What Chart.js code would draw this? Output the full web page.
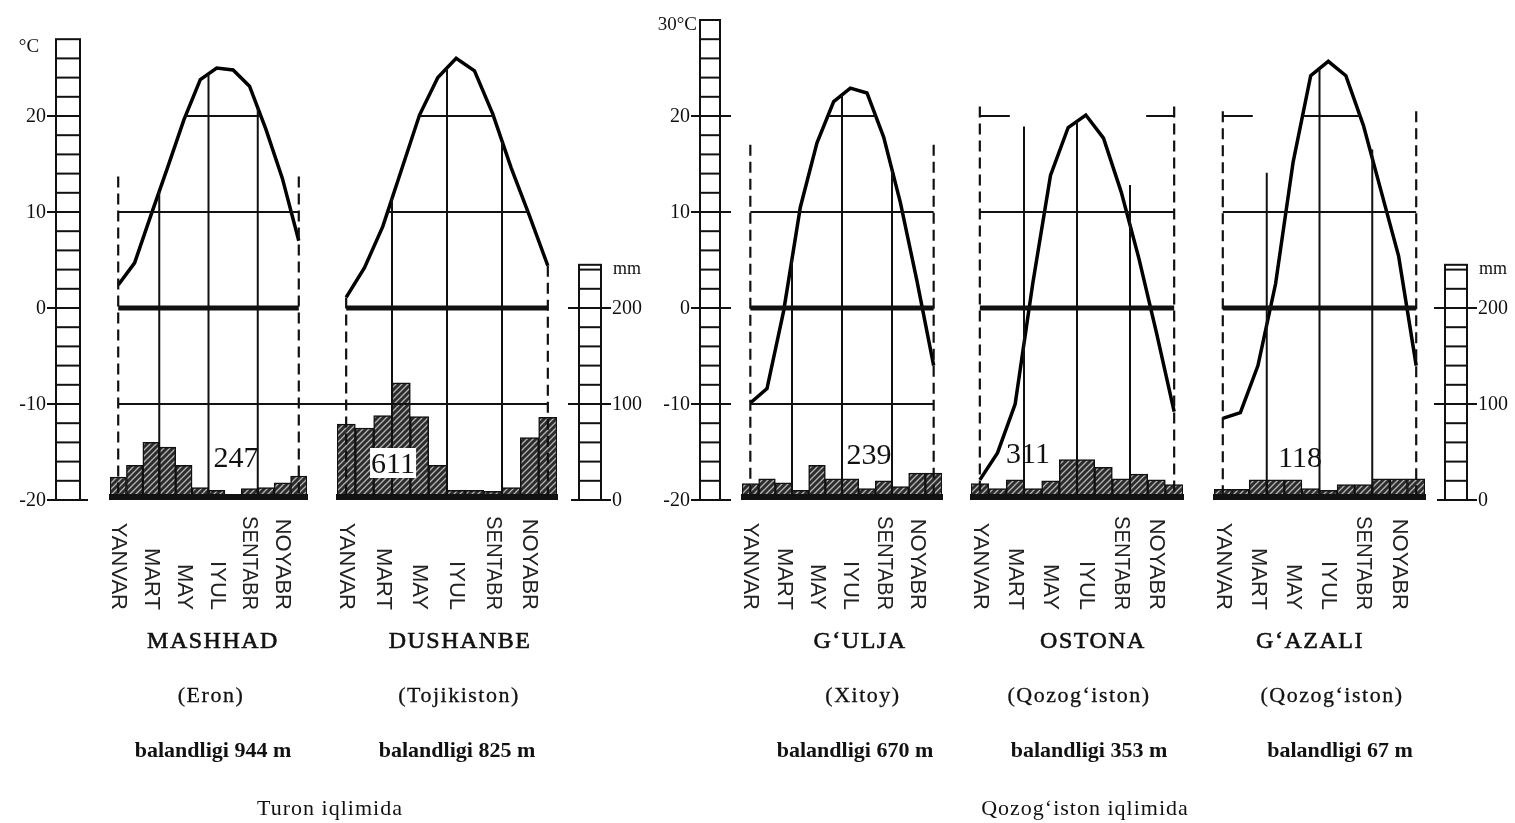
<!DOCTYPE html>
<html>
<head>
<meta charset="utf-8">
<script src="https://cdn.jsdelivr.net/npm/chart.js@4.4.1/dist/chart.umd.min.js"></script>
<style>
  html, body { margin: 0; padding: 0; background: #fff; }
  #page { position: relative; width: 1515px; height: 823px; overflow: hidden; background: #fff; }
  #page canvas { position: absolute; left: 0; top: 0; }
  .cap { position: absolute; transform: translate(-50%, -50%); white-space: nowrap;
         font-family: "Liberation Serif", "DejaVu Serif", serif; color: #111; line-height: 1; }
  .city { font-size: 24px; letter-spacing: 1.5px; -webkit-text-stroke: 0.6px #111; }
  .country { font-size: 22px; letter-spacing: 1.5px; -webkit-text-stroke: 0.3px #111; }
  .elev { font-size: 22px; font-weight: bold; }
  .group { font-size: 22px; letter-spacing: 1px; }
  .total { font-size: 30px; }
  .total.boxed { background: #fff; padding: 0 1px; }
</style>
</head>
<body>
<div id="page"></div>
<script>
// --- data ---
const monthLabels = ["YANVAR", "", "MART", "", "MAY", "", "IYUL", "", "SENTABR", "", "NOYABR", ""];
const tempTicks = [-20, -10, 0, 10, 20];
const mmTicks = [0, 100, 200];

const cities = ["MASHHAD", "DUSHANBE", "G‘ULJA", "OSTONA", "G‘AZALI"];
const countries = ["(Eron)", "(Tojikiston)", "(Xitoy)", "(Qozog‘iston)", "(Qozog‘iston)"];
const elevations = [944, 825, 670, 353, 67];
const totals = [247, 611, 239, 311, 118];
const groupNames = ["Turon iqlimida", "Qozog‘iston iqlimida"];

// monthly mean temperature, °C
const tempMashhad = [2.4, 4.7, 9.7, 14.6, 19.6, 23.8, 25.0, 24.8, 23.1, 18.6, 13.5, 7.0];
const tempDushanbe = [1.1, 4.2, 8.5, 14.3, 20.1, 24.0, 26.0, 24.7, 20.2, 14.6, 9.6, 4.4];
const tempGulja = [-9.9, -8.4, -0.3, 10.5, 17.2, 21.5, 22.9, 22.4, 17.8, 11.0, 2.8, -6.0];
const tempOstona = [-17.9, -15.1, -10.0, 2.6, 13.8, 18.8, 20.1, 17.7, 12.1, 5.2, -2.6, -10.8];
const tempGazali = [-11.5, -10.9, -6.0, 2.5, 15.2, 24.2, 25.7, 24.2, 19.0, 12.2, 5.4, -6.0];

// monthly precipitation, mm
const precipMashhad = [24, 36, 60, 55, 36, 13, 10, 3, 12, 13, 18, 25];
const precipDushanbe = [79, 75, 88, 122, 87, 36, 10, 10, 9, 13, 65, 86];
const precipGulja = [17, 22, 18, 10, 36, 22, 22, 12, 20, 14, 28, 28];
const precipOstona = [17, 12, 21, 12, 20, 42, 42, 34, 22, 27, 21, 16];
const precipGazali = [11, 11, 21, 21, 21, 12, 10, 16, 16, 22, 22, 22];

// --- layout of the five diagrams ---
const W = 1515, H = 823;
const panels = [
    { temp: tempMashhad, precip: precipMashhad, left: 110, right: 307, dashTop: 13.7,
      seasonTops: [null, null, null],
      levels: [{ t: 20, spans: ["curve"] }, { t: 10, spans: ["full"] }, { t: 0, spans: ["full"], w: 5 }, { t: -10, spans: ["full"] }],
      ladder: { kind: "temp", x: 56, w: 24, top: 28, unit: "°C", both: false },
      cap: { city: 213, country: 211, elev: 213, total: [236, 457] } },
    { temp: tempDushanbe, precip: precipDushanbe, left: 337, right: 557, dashTop: 0,
      seasonTops: [null, null, null],
      levels: [{ t: 20, spans: ["curve"] }, { t: 10, spans: ["curve"] }, { t: 0, spans: ["full"], w: 5 }, { t: -10, spans: ["prev"] }],
      ladder: { kind: "mm", x: 579, w: 22, top: 245 },
      cap: { city: 460, country: 459, elev: 457, total: [393, 463], boxed: true } },
    { temp: tempGulja, precip: precipGulja, left: 742, right: 942, dashTop: 17,
      seasonTops: [null, null, null],
      levels: [{ t: 20, spans: ["curve"] }, { t: 10, spans: ["full"] }, { t: 0, spans: ["full"], w: 5 }, { t: -10, spans: ["full"] }],
      ladder: { kind: "temp", x: 700, w: 20, top: 30, unit: "30°C", both: true },
      cap: { city: 860, country: 863, elev: 855, total: [869, 454] } },
    { temp: tempOstona, precip: precipOstona, left: 971, right: 1183, dashTop: 21,
      seasonTops: [18.9, null, 12.8],
      levels: [{ t: 20, spans: ["capL", "capR"] }, { t: 10, spans: ["full"] }, { t: 0, spans: ["full"], w: 5 }],
      ladder: null,
      cap: { city: 1093, country: 1079, elev: 1089, total: [1028, 453] } },
    { temp: tempGazali, precip: precipGazali, left: 1214, right: 1425, dashTop: 20.5,
      seasonTops: [14.1, null, 16.5],
      levels: [{ t: 20, spans: ["curve", "capL"] }, { t: 10, spans: ["full"] }, { t: 0, spans: ["full"], w: 5 }],
      ladder: { kind: "mm", x: 1445, w: 22, top: 245 },
      cap: { city: 1310, country: 1332, elev: 1340, total: [1300, 457] } }
];
const groupX = [330, 1085];

const ink = "#111";
const serif = '"Liberation Serif", "DejaVu Serif", serif';

function hatch() {
    const c = document.createElement("canvas");
    c.width = c.height = 6;
    const g = c.getContext("2d");
    g.fillStyle = "#2c2c2c";
    g.fillRect(0, 0, 6, 6);
    g.strokeStyle = "#b4b4b4";
    g.lineWidth = 1.3;
    g.beginPath();
    g.moveTo(0, 6); g.lineTo(6, 0);
    g.moveTo(-1, 1); g.lineTo(1, -1);
    g.moveTo(5, 7); g.lineTo(7, 5);
    g.stroke();
    return g.createPattern(c, "repeat");
}

function seg(ctx, x1, y1, x2, y2) {
    ctx.beginPath();
    ctx.moveTo(x1, y1);
    ctx.lineTo(x2, y2);
    ctx.stroke();
}

const charts = [];

function climoPlugin(k) {
    const p = panels[k];
    return {
        id: "climo" + k,
        afterDatasetsDraw(chart) {
            const ctx = chart.ctx;
            const xs = chart.scales.x, ys = chart.scales.y, ms = chart.scales.mm;
            const n = p.temp.length;
            const px = i => xs.getPixelForValue(i);
            const py = v => ys.getPixelForValue(v);
            const x0 = px(0), x1 = px(n - 1), yb = ms.getPixelForValue(0);
            ctx.save();
            ctx.strokeStyle = ink;
            ctx.fillStyle = ink;

            // heavy base under the bars
            ctx.fillRect(chart.chartArea.left - 1, yb - 6, chart.chartArea.width + 2, 6);

            // dashed end lines
            ctx.lineWidth = 2.2;
            ctx.setLineDash([11, 6]);
            [0, n - 1].forEach(i => {
                seg(ctx, px(i), py(Math.max(p.dashTop, p.temp[i])), px(i), yb);
            });
            ctx.setLineDash([]);

            // season dividers (after March, June, September)
            ctx.lineWidth = 2;
            [2, 5, 8].forEach((i, j) => {
                const xb = (px(i) + px(i + 1)) / 2;
                const t = p.seasonTops[j] ?? (p.temp[i] + p.temp[i + 1]) / 2;
                seg(ctx, xb, py(t), xb, yb);
            });

            // isotherm lines
            p.levels.forEach(lv => {
                const yy = py(lv.t);
                ctx.lineWidth = lv.w || 2;
                lv.spans.forEach(s => {
                    if (s === "full") seg(ctx, x0, yy, x1, yy);
                    else if (s === "capL") seg(ctx, x0, yy, x0 + 30, yy);
                    else if (s === "capR") seg(ctx, x1 - 28, yy, x1, yy);
                    else if (s === "prev") {
                        const pc = charts[k - 1];
                        seg(ctx, pc.scales.x.getPixelForValue(0), yy, x1, yy);
                    } else if (s === "curve") {
                        const cross = [];
                        for (let i = 0; i < n - 1; i++) {
                            const a = p.temp[i], b = p.temp[i + 1];
                            if ((a - lv.t) * (b - lv.t) < 0) {
                                cross.push(px(i) + (lv.t - a) / (b - a) * (px(i + 1) - px(i)));
                            }
                        }
                        if (cross.length >= 2) seg(ctx, Math.min(...cross), yy, Math.max(...cross), yy);
                    }
                });
            });

            // month names, written top to bottom
            ctx.font = '22px "Liberation Sans", Arial, sans-serif';
            ctx.textAlign = "right";
            ctx.textBaseline = "middle";
            ctx.fillStyle = "#222";
            monthLabels.forEach((m, i) => {
                if (!m) return;
                ctx.save();
                ctx.translate(px(i), yb + 110);
                ctx.rotate(Math.PI / 2);
                ctx.fillText(m, 0, 0, 94);
                ctx.restore();
            });

            // ladder scales
            const L = p.ladder;
            if (L) {
                ctx.fillStyle = ink;
                ctx.lineWidth = 2;
                ctx.font = "20px " + serif;
                ctx.textBaseline = "middle";
                if (L.kind === "temp") {
                    const yt = py(L.top), y20 = py(-20);
                    ctx.strokeRect(L.x, yt, L.w, y20 - yt);
                    for (let v = -18; v < L.top; v += 2) seg(ctx, L.x, py(v), L.x + L.w, py(v));
                    ctx.textAlign = "right";
                    tempTicks.forEach(v => {
                        const yy = py(v);
                        const right = L.both ? L.x + L.w + 11 : (v === -20 ? L.x + L.w + 8 : (v === 20 ? L.x + L.w : L.x));
                        seg(ctx, L.x - 9, yy, right, yy);
                        ctx.fillText(String(v), L.x - 10, yy + 1);
                    });
                    ctx.font = "19px " + serif;
                    if (L.both) ctx.fillText(L.unit, L.x - 3, yt + 5);
                    else { ctx.textAlign = "center"; ctx.fillText(L.unit, L.x - 27, yt + 8); }
                } else {
                    const yt = ms.getPixelForValue(L.top);
                    ctx.strokeRect(L.x, yt, L.w, yb - yt);
                    for (let v = 20; v < L.top; v += 20) seg(ctx, L.x, ms.getPixelForValue(v), L.x + L.w, ms.getPixelForValue(v));
                    ctx.textAlign = "left";
                    mmTicks.forEach(v => {
                        const yy = ms.getPixelForValue(v);
                        seg(ctx, L.x - (v === 0 ? 8 : 11), yy, L.x + L.w + 10, yy);
                        ctx.fillText(String(v), L.x + L.w + 11, yy + 1);
                    });
                    ctx.font = "18px " + serif;
                    ctx.fillText("mm", L.x + L.w + 12, yt + 4);
                }
            }
            ctx.restore();
        }
    };
}

const page = document.getElementById("page");
const fill = hatch();

panels.forEach((p, k) => {
    const cv = document.createElement("canvas");
    cv.width = W;
    cv.height = H;
    page.appendChild(cv);
    const chart = new Chart(cv, {
        data: {
            labels: monthLabels,
            datasets: [
                {
                    type: "line",
                    data: p.temp,
                    yAxisID: "y",
                    borderColor: "#000",
                    borderWidth: 3.5,
                    pointRadius: 0,
                    tension: 0,
                    order: 0,
                },
                {
                    type: "bar",
                    data: p.precip,
                    yAxisID: "mm",
                    backgroundColor: fill,
                    borderColor: ink,
                    borderWidth: 1.5,
                    borderSkipped: false,
                    categoryPercentage: 1,
                    barPercentage: 1,
                    order: 1,
                },
            ],
        },
        options: {
            responsive: false,
            animation: false,
            devicePixelRatio: 1,
            events: [],
            layout: { padding: { left: p.left, right: W - p.right, top: 20, bottom: H - 500 } },
            plugins: { legend: { display: false }, tooltip: { enabled: false } },
            scales: {
                x: { type: "category", display: false, offset: true },
                y: { type: "linear", display: false, min: -20, max: 30 },
                mm: { type: "linear", display: false, min: 0, max: 500 },
            },
        },
        plugins: [climoPlugin(k)],
    });
    charts.push(chart);
});

// captions as text
function caption(cls, text, x, y) {
    const d = document.createElement("div");
    d.className = "cap " + cls;
    d.textContent = text;
    d.style.left = x + "px";
    d.style.top = y + "px";
    page.appendChild(d);
}
panels.forEach((p, k) => {
    caption("city", cities[k], p.cap.city, 640);
    caption("country", countries[k], p.cap.country, 695);
    caption("elev", "balandligi  " + elevations[k] + " m", p.cap.elev, 750);
    caption("total" + (p.cap.boxed ? " boxed" : ""), String(totals[k]), p.cap.total[0], p.cap.total[1]);
});
groupNames.forEach((g, i) => caption("group", g, groupX[i], 808));
</script>
</body>
</html>
